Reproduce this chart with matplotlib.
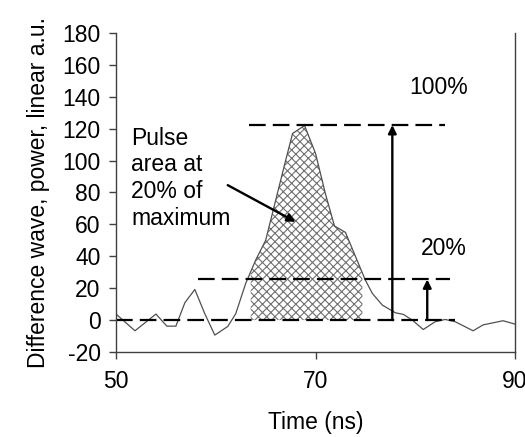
import numpy as np
import matplotlib
matplotlib.use("Agg")
import matplotlib.pyplot as plt

plt.rcParams['font.family'] = ['Liberation Sans', 'DejaVu Sans']
plt.rcParams['axes.unicode_minus'] = False
plt.rcParams['hatch.linewidth'] = 0.8
plt.rcParams['hatch.color'] = '#707070'

# difference wave (ns, a.u.)
time_ns = [50.0, 51.9, 54.0, 55.1, 56.0, 56.9, 57.9, 58.9, 59.9, 61.2, 62.0,
           63.0, 64.0, 65.0, 66.0, 67.0, 67.7, 68.9, 70.0, 71.0, 71.9, 73.0,
           74.0, 75.0, 75.7, 76.7, 78.0, 78.8, 79.7, 80.8, 82.0, 83.0, 84.0,
           85.8, 86.8, 88.8, 90.0]
power = [3.8, -6.7, 3.8, -3.8, -3.8, 10.9, 19.2, 4.0, -9.4, -4.0, 4.0,
         23.0, 37.6, 50.0, 75.0, 100.0, 117.0, 122.0, 104.5, 79.0, 59.0, 55.0,
         40.0, 25.0, 16.7, 9.4, 4.6, 3.6, 0.0, -5.9, -1.0, 0.4, -1.0,
         -6.7, -3.0, -0.4, -2.5]

peak = 122.3
level20 = 25.5
area_start, area_end = 63.5, 74.7

t = np.array(time_ns)
p = np.array(power)
fs = 16.5

fig = plt.figure(figsize=(5.25, 4.37), dpi=100)
ax = fig.add_axes([0.221, 0.1945, 0.760, 0.730])

# hatched pulse area
inside = (t > area_start) & (t < area_end)
tf = np.concatenate([[area_start], t[inside], [area_end]])
pf = np.concatenate([[np.interp(area_start, t, p)], p[inside], [np.interp(area_end, t, p)]])
ax.fill_between(tf, 0, pf, facecolor='white', edgecolor='#707070', hatch='xxxx', linewidth=0)

ax.plot(t, p, color='#505050', lw=0.9)

dash = (0, (7.5, 3.2))
ax.plot([63.3, 83.0], [peak, peak], color='black', lw=1.6, linestyle=dash)
ax.plot([58.2, 83.5], [level20, level20], color='black', lw=1.6, linestyle=dash)
ax.plot([50.0, 84.0], [0, 0], color='black', lw=1.6, linestyle=dash)

arrow = dict(arrowstyle='-|>', color='black', lw=1.7, mutation_scale=12, shrinkA=0, shrinkB=0)
ax.annotate('', xy=(77.7, peak), xytext=(77.7, 0), arrowprops=arrow)
ax.annotate('', xy=(81.2, level20), xytext=(81.2, 0), arrowprops=arrow)
ax.annotate('', xy=(68.0, 61.6), xytext=(61.2, 84.6), arrowprops=arrow)

ax.text(82.3, 146, '100%', fontsize=fs, ha='center', va='center')
ax.text(82.9, 45, '20%', fontsize=fs, ha='center', va='center')
ax.text(51.5, 89, 'Pulse\narea at\n20% of\nmaximum', fontsize=fs, ha='left', va='center',
        linespacing=1.2)

ax.set_xlim(50, 90)
ax.set_ylim(-20, 180)
ax.set_xticks([50, 70, 90])
ax.set_yticks(np.arange(-20, 181, 20))
ax.tick_params(direction='out', length=5, width=1, color='#404040', labelsize=fs, pad=6)
ax.tick_params(axis='x', pad=8)
for side in ['left', 'bottom', 'right']:
    ax.spines[side].set_color('#404040')
    ax.spines[side].set_linewidth(1)
ax.spines['top'].set_visible(False)

ax.set_xlabel('Time (ns)', fontsize=fs, labelpad=13)
ax.set_ylabel('Difference wave, power, linear a.u.', fontsize=fs, labelpad=9)

fig.savefig('out.png', dpi=100)
